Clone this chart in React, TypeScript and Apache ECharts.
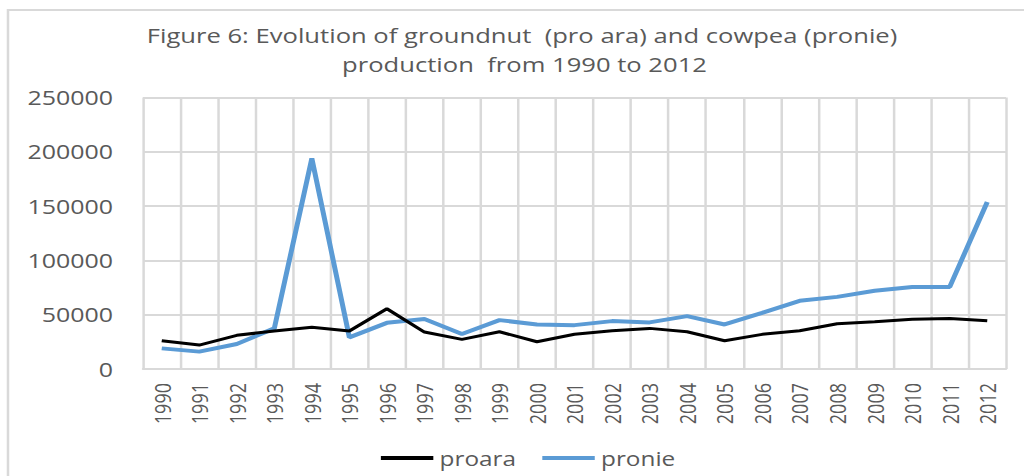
import React, { useEffect, useRef } from "react";
import * as echarts from "echarts";

const years = ["1990","1991","1992","1993","1994","1995","1996","1997","1998","1999","2000","2001","2002","2003","2004","2005","2006","2007","2008","2009","2010","2011","2012"];
const proara = [26000,22000,31000,35000,38500,35000,55500,34000,27300,34300,25100,32000,35200,37400,34300,26000,31900,35200,41600,43500,45700,46600,44400];
const pronie = [19000,16000,23000,37400,194000,29100,42500,46000,32200,45000,41000,40400,44100,42900,48700,41000,51700,62800,66400,72000,75600,75600,153800];
const titleLine1 = "Figure 6: Evolution of groundnut  (pro ara) and cowpea (pronie)";
const titleLine2 = "production  from 1990 to 2012";

const W = 820;
const H = 476;
const SX = 1024 / W;

export default function App() {
  const ref = useRef<HTMLDivElement>(null);
  useEffect(() => {
    if (!ref.current) return;
    const chart = echarts.init(ref.current, undefined, { renderer: "svg", width: W, height: H });
    const font = "'Open Sans', sans-serif";
    const titleStyle = { fontFamily: font, fontSize: 20.5, fontWeight: "normal", color: "#595959" };
    chart.setOption({
      animation: false,
      backgroundColor: "#ffffff",
      textStyle: { fontFamily: font },
      title: [
        { text: titleLine1, left: 418, top: 25, textAlign: "center", padding: 0, textStyle: titleStyle },
        { text: titleLine2, left: 420, top: 54, textAlign: "center", padding: 0, textStyle: titleStyle },
      ],
      graphic: [
        {
          type: "rect",
          shape: { x: 6.4, y: 10, width: 900, height: 500 },
          style: { fill: "none", stroke: "#d9d9d9", lineWidth: 2 },
          silent: true,
        },
      ],
      legend: {
        left: 300,
        top: 443,
        itemWidth: 42,
        itemHeight: 4,
        itemGap: 21,
        icon: "rect",
        textStyle: { fontFamily: font, fontSize: 19.5, color: "#595959", padding: [0, 0, 0, 0] },
        data: ["proara", "pronie"],
      },
      grid: { left: 114.5, right: 14.4, top: 97.5, bottom: 107, containLabel: false },
      xAxis: {
        type: "category",
        data: years,
        boundaryGap: true,
        axisLine: { show: true, lineStyle: { color: "#d9d9d9", width: 2 } },
        axisTick: { show: false },
        splitLine: { show: true, lineStyle: { color: "#d9d9d9", width: 2 } },
        axisLabel: { rotate: 90, margin: 14, fontFamily: font, fontSize: 18, color: "#595959", interval: 0 },
      },
      yAxis: {
        type: "value",
        min: 0,
        max: 250000,
        interval: 50000,
        axisLine: { show: false },
        axisTick: { show: false },
        splitLine: { show: true, lineStyle: { color: "#d9d9d9", width: 2 } },
        axisLabel: {
          margin: 24,
          fontFamily: font,
          fontSize: 20,
          color: "#595959",
          formatter: (v: number) => String(v),
        },
      },
      series: [
        {
          name: "proara",
          type: "line",
          data: proara,
          symbol: "none",
          lineStyle: { color: "#000000", width: 3 },
          itemStyle: { color: "#000000" },
          z: 3,
        },
        {
          name: "pronie",
          type: "line",
          data: pronie,
          symbol: "none",
          lineStyle: { color: "#5b9bd5", width: 4 },
          itemStyle: { color: "#5b9bd5" },
          z: 2,
        },
      ],
    });
    return () => chart.dispose();
  }, []);
  return (
    <div
      ref={ref}
      style={{
        position: "absolute",
        left: 0,
        top: 0,
        width: W,
        height: H,
        transform: `scaleX(${SX})`,
        transformOrigin: "0 0",
        background: "#ffffff",
      }}
    />
  );
}
